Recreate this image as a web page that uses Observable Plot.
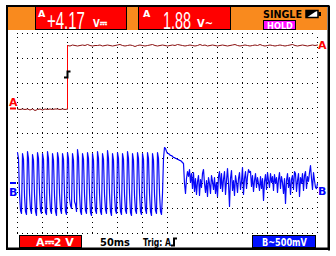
<!DOCTYPE html>
<html><head><meta charset="utf-8">
<script src="https://cdn.jsdelivr.net/npm/d3@7"></script>
<script src="https://cdn.jsdelivr.net/npm/@observablehq/plot@0.6"></script>
<style>html,body{margin:0;padding:0;background:#fff;overflow:hidden}</style>
</head><body><div id="chart"></div>
<script>
// Screen: 12 horizontal divisions x 50 ms, 8 vertical divisions
const gridTimes = [0,50,100,150,200,250,300,350,400,450,500,550,600];
const gridDivs = [-4,-3,-2,-1,0,1,2,3,4];
// Channel A: 2 V/div, ground at +1 div; sampled every 5 ms
const aVoltsPerDiv = 2, aGroundDiv = 1, aStepMs = 5, aStepAt = 100;
const aLow = [-0.04,-0.08,-0.04,-0.08,-0.04,-0.12,-0.04,-0.16,-0.08,-0.04,-0.12,-0.04,-0.08,-0.04,-0.08,-0.04,-0.04,-0.08,-0.04,-0.08,-0.04];
const aHigh = [5.04,5.0,5.08,5.04,5.0,5.04,5.08,5.04,5.12,5.04,
5.0,5.04,5.04,5.08,5.0,5.04,5.08,5.04,5.0,5.04,
5.08,5.12,5.04,5.0,5.04,5.08,5.04,4.96,5.04,5.08,
5.04,5.0,5.04,5.08,5.12,5.04,5.0,5.04,5.08,5.04,
5.0,5.04,5.08,5.04,5.12,5.08,5.04,5.0,5.04,5.08,
5.04,5.0,5.04,5.12,5.04,5.08,5.0,5.04,5.08,5.04,
5.0,5.04,5.08,5.04,5.0,5.04,5.08,5.12,5.04,5.0,
5.04,5.08,5.04,5.0,5.04,5.08,5.04,5.12,5.04,5.0,
5.04,5.08,5.04,5.0,5.04,5.08,5.04,5.0,5.04,5.08,
5.12,5.04,5.0,5.04,5.08,5.04,5.0,5.04,5.08,5.04,5.08];
// Channel B: 500 mV/div, ground at -2 div; sampled every 2 ms
const bVoltsPerDiv = 0.5, bGroundDiv = -2, bStepMs = 2;
const bBurst = [
0.62,0.5,-0.2,-0.54,-0.6, 0.6,0.48,-0.24,-0.56,-0.62, 0.64,0.5,-0.2,-0.52,-0.6, 0.58,0.46,-0.22,-0.56,-0.64,
0.62,0.5,-0.18,-0.54,-0.6, 0.6,0.48,-0.22,-0.58,-0.62, 0.64,0.5,-0.2,-0.54,-0.6, 0.6,0.46,-0.24,-0.56,-0.64,
0.62,0.5,-0.2,-0.52,-0.6, 0.6,0.48,-0.22,-0.56,-0.62, 0.62,0.5,-0.3,-0.44,-0.5, 0.6,0.46,-0.36,-0.42,-0.56,
0.68,0.52,-0.2,-0.56,-0.62, 0.6,0.48,-0.22,-0.54,-0.6, 0.62,0.5,-0.2,-0.58,-0.64, 0.6,0.46,-0.24,-0.54,-0.6,
0.64,0.5,-0.2,-0.56,-0.62, 0.6,0.48,-0.22,-0.52,-0.6, 0.66,0.5,-0.2,-0.56,-0.64, 0.6,0.46,-0.24,-0.54,-0.6,
0.62,0.5,-0.2,-0.56,-0.62, 0.6,0.48,-0.22,-0.54,-0.6, 0.64,0.5,-0.2,-0.58,-0.64, 0.6,0.46,-0.24,-0.54,-0.6,
0.62,0.5,-0.2,-0.56,-0.62, 0.6,0.48,-0.22,-0.52,-0.6, 0.62,0.5,-0.2,-0.56,-0.64, 0.6,0.46,-0.22,-0.54,-0.6,
0.62,0.5,-0.2,-0.56,-0.62, -0.2,0.5];
const bSpike = [0.72,0.7,0.64,0.6,0.6,0.58,0.56,0.56,0.54,0.52,0.52,0.5,0.5,0.48,0.48,0.46,0.46,0.44,0.42,0.4,0.0,-0.2];
const bNoise = [0.1,0.24,0.14,0.28,0.02,0.2,-0.1,0.22,-0.16,0.1,
-0.22,0.04,0.16,-0.24,0.08,-0.08,0.2,0.28,0.0,-0.18,
0.06,-0.26,0.12,0.0,-0.2,0.16,0.04,-0.12,0.12,-0.2,
0.02,-0.26,0.14,0.24,-0.1,0.2,-0.16,0.08,0.24,-0.22,
0.06,0.3,0.0,-0.46,0.1,0.26,-0.14,0.06,-0.24,0.16,
0.02,-0.18,0.1,0.22,-0.12,0.04,0.32,-0.22,0.1,0.24,
-0.1,0.14,0.28,0.22,0.24,-0.06,0.16,-0.16,0.06,0.2,
-0.08,0.12,0.0,-0.14,0.14,-0.1,0.1,-0.34,0.04,0.18,
-0.12,0.22,0.06,-0.08,0.2,0.02,0.14,-0.14,0.18,0.0,
0.12,-0.18,0.08,0.22,-0.1,0.14,0.02,-0.2,0.1,-0.4,
0.06,0.2,-0.08,0.12,-0.22,0.08,0.16,-0.12,0.24,0.2,
-0.16,0.06,0.2,-0.26,0.12,0.0,0.2,-0.14,0.16,0.24,
-0.1,0.14,0.04,0.22,0.36,0.1,-0.12,0.22,0.06,-0.08,
-0.1,0.0];
// Readouts
const readingA1 = "+4.17", unitA1 = "V⎓";
const readingA2 = "1.88", unitA2 = "V~";
const modeLabel = "SINGLE", holdLabel = "HOLD";
const chALabel = "A⎓2 V", timebaseLabel = "50ms", trigLabel = "Trig: A", chBLabel = "B~500mV";

const aData = [];
aLow.forEach((v,i)=>aData.push({t:i*aStepMs, v}));
aHigh.forEach((v,i)=>aData.push({t:aStepAt+i*aStepMs, v}));
const bVals = bBurst.concat(bSpike, bNoise);
const bData = bVals.map((v,i)=>({t:i*bStepMs, v}));
const aDiv = d => aGroundDiv + d.v/aVoltsPerDiv;
const bDiv = d => bGroundDiv + d.v/bVoltsPerDiv;

const chart = Plot.plot({
  width:336, height:256, margin:0,
  x:{domain:[0,600], range:[17,317], axis:null},
  y:{domain:[-4,4], range:[233,33], axis:null},
  style:{background:"transparent"},
  marks:[
    Plot.ruleX(gridTimes, {y1:-4, y2:4, stroke:"#000", strokeWidth:1, strokeDasharray:"1,4", shapeRendering:"crispEdges"}),
    Plot.ruleY(gridDivs, {x1:0, x2:600, stroke:"#000", strokeWidth:1, strokeDasharray:"1,4", shapeRendering:"crispEdges"}),
    Plot.line(aData.filter(d=>d.t<=aStepAt), {x:"t", y:aDiv, stroke:"#8a1010", strokeWidth:1}),
    Plot.line(aData.filter(d=>d.t>=aStepAt), {x:"t", y:aDiv, stroke:"#8a1010", strokeWidth:1}),
    Plot.ruleX([aStepAt], {y1:aGroundDiv + aLow[aLow.length-1]/aVoltsPerDiv, y2:aGroundDiv + aHigh[0]/aVoltsPerDiv, stroke:"#ff0000", strokeWidth:1}),
    Plot.line(bData, {x:"t", y:bDiv, stroke:"#0808f8", strokeWidth:1.2})
  ]
});
document.getElementById("chart").appendChild(chart);

const svg = d3.select(chart);
const bg = svg.insert("g", ":first-child");
bg.append("rect").attr("x",0).attr("y",0).attr("width",336).attr("height",256).attr("fill","#fff");
bg.append("rect").attr("x",7).attr("y",6).attr("width",321.5).attr("height",242.5).attr("fill","#fff").attr("stroke","#000").attr("stroke-width",2);
bg.append("rect").attr("x",8).attr("y",7).attr("width",319).attr("height",23).attr("fill","#f98a1e");

const fg = svg.append("g").attr("text-anchor","start");
fg.append("rect").attr("x",328).attr("y",6).attr("width",2).attr("height",244.5).attr("fill","#000");
fg.append("rect").attr("x",6).attr("y",248.5).attr("width",324).attr("height",1.5).attr("fill","#000");
const font = "DejaVu Sans, sans-serif";
function txt(x,y,s,size,fill,opts={}) {
  const t = fg.append("text").attr("x",0).attr("y",0).text(s)
    .attr("font-family", opts.family || font).attr("font-size", size)
    .attr("font-weight", opts.weight || "bold").attr("fill", fill)
    .attr("text-anchor", opts.anchor || "start");
  let sx = 1;
  if (opts.len) {
    const w = t.node().getComputedTextLength();
    if (w > 0) sx = opts.len / w;
  }
  t.attr("transform", `translate(${x},${y}) scale(${sx},1)`);
  return t;
}
// top boxes
fg.append("rect").attr("x",35.5).attr("y",6.5).attr("width",91).attr("height",23).attr("fill","#ff0000").attr("stroke","#000");
fg.append("rect").attr("x",138.5).attr("y",6.5).attr("width",92).attr("height",23).attr("fill","#ff0000").attr("stroke","#000");
txt(38,17,"A",9.5,"#fff");
txt(47,28.5,readingA1,23,"#fff",{family:"Liberation Sans Narrow, Liberation Sans, sans-serif", weight:"normal", len:38});
txt(93,27,unitA1,11,"#fff",{len:14});
txt(143,17,"A",9.5,"#fff");
txt(163,28.5,readingA2,23,"#fff",{family:"Liberation Sans Narrow, Liberation Sans, sans-serif", weight:"normal", len:28});
txt(197,27,unitA2,11,"#fff",{len:16});
// mode
txt(263,18,modeLabel,11,"#000",{len:39});
fg.append("rect").attr("x",306).attr("y",10.5).attr("width",12).attr("height",7).attr("fill","#fff").attr("stroke","#000").attr("stroke-width",1.5);
fg.append("rect").attr("x",318.5).attr("y",12).attr("width",2.5).attr("height",4).attr("fill","#000");
fg.append("path").attr("d","M306,10 L318,10 L306,18 Z").attr("fill","#000");
fg.append("rect").attr("x",263.5).attr("y",20.5).attr("width",32).attr("height",9).attr("fill","#ff10ff").attr("stroke","#000");
txt(267,28.5,holdLabel,9.5,"#fff",{len:26});
// channel markers
txt(9,106,"A",11,"#ff0000");
fg.append("rect").attr("x",10).attr("y",107.5).attr("width",6).attr("height",2).attr("fill","#ff0000");
txt(318,49,"A",11,"#ff0000");
fg.append("rect").attr("x",10).attr("y",182).attr("width",6).attr("height",2).attr("fill","#0000ff");
txt(9,196,"B",11,"#0000ff");
txt(318,195,"B",11,"#0000ff");
// trigger marker
fg.append("path").attr("d","M64,77.5 L67.5,77.5 L67.5,71.5 L70.5,71.5").attr("fill","none").attr("stroke","#000").attr("stroke-width",2);
// bottom bar
fg.append("rect").attr("x",19.5).attr("y",235.5).attr("width",62).attr("height",12).attr("fill","#ff0000").attr("stroke","#000");
txt(36,246,chALabel,10.5,"#fff",{len:38});
txt(100,246,timebaseLabel,10.5,"#000",{len:30});
txt(143,246,trigLabel,10.5,"#000",{len:28});
fg.append("path").attr("d","M171,245.5 L174,245.5 L174,238.5 L177,238.5").attr("fill","none").attr("stroke","#000").attr("stroke-width",2);
fg.append("rect").attr("x",252.5).attr("y",235.5).attr("width",63).attr("height",12).attr("fill","#0010ff").attr("stroke","#000");
txt(262,246,chBLabel,10.5,"#fff",{len:45});
</script></body></html>
